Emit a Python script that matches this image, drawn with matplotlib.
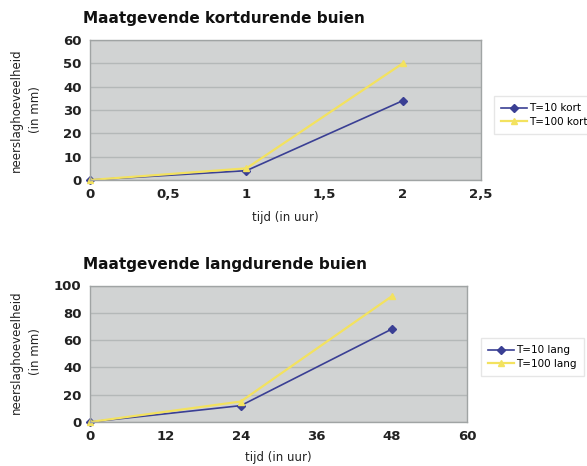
import matplotlib
matplotlib.use("Agg")
import matplotlib.pyplot as plt

# neerslag kortdurende buien (uur -> mm)
tijd_kort = [0, 1, 2]
t10_kort = [0, 4, 34]
t100_kort = [0, 5, 50]

# neerslag langdurende buien (uur -> mm)
tijd_lang = [0, 24, 48]
t10_lang = [0, 12, 68]
t100_lang = [0, 15, 92]

W, H = 587, 466
blauw = "#3a3f94"
geel = "#f3e25f"
achtergrond = "#d1d3d3"
raster = "#b4b8b8"

fig = plt.figure(figsize=(W / 100, H / 100), dpi=100)
fig.patch.set_facecolor("white")


def px(x, y):
    return x / W, 1 - y / H


def opmaak(ax, xticks, xlabels, ymax, ystep):
    ax.set_facecolor(achtergrond)
    ax.set_xlim(xticks[0], xticks[-1])
    ax.set_ylim(0, ymax)
    ax.set_xticks(xticks)
    ax.set_xticklabels(xlabels)
    ax.set_yticks(range(0, ymax + 1, ystep))
    ax.yaxis.grid(True, color=raster, linewidth=1)
    ax.set_axisbelow(True)
    for s in ax.spines.values():
        s.set_color("#a0a4a4")
        s.set_linewidth(1)
    ax.tick_params(length=0, labelsize=9.5, pad=6, labelcolor="#222222")
    for lbl in ax.get_xticklabels() + ax.get_yticklabels():
        lbl.set_fontweight("bold")


# bovenste grafiek
ax1 = fig.add_axes([90 / W, 1 - 180 / H, (481 - 90) / W, 140 / H])
ax1.plot(tijd_kort, t10_kort, color=blauw, marker="D", markersize=4, lw=1.2,
         label="T=10 kort", clip_on=False)
ax1.plot(tijd_kort, t100_kort, color=geel, marker="^", markersize=5, lw=1.6,
         label="T=100 kort", clip_on=False)
opmaak(ax1, [0, 0.5, 1, 1.5, 2, 2.5], ["0", "0,5", "1", "1,5", "2", "2,5"], 60, 10)
leg1 = fig.legend(handles=ax1.get_lines(), loc="center left", bbox_to_anchor=px(497, 115),
                  fontsize=7.5, frameon=True, handlelength=2.5, borderpad=0.4,
                  labelspacing=0.3, handletextpad=0.2, borderaxespad=0)
leg1.get_frame().set_edgecolor("#e0e0e0")
leg1.get_frame().set_boxstyle("square")

# onderste grafiek
ax2 = fig.add_axes([90 / W, 1 - 422 / H, (467 - 90) / W, 136.5 / H])
ax2.plot(tijd_lang, t10_lang, color=blauw, marker="D", markersize=4, lw=1.2,
         label="T=10 lang", clip_on=False)
ax2.plot(tijd_lang, t100_lang, color=geel, marker="^", markersize=5, lw=1.6,
         label="T=100 lang", clip_on=False)
opmaak(ax2, [0, 12, 24, 36, 48, 60], ["0", "12", "24", "36", "48", "60"], 100, 20)
leg2 = fig.legend(handles=ax2.get_lines(), loc="center left", bbox_to_anchor=px(484, 357),
                  fontsize=7.5, frameon=True, handlelength=2.5, borderpad=0.4,
                  labelspacing=0.3, handletextpad=0.2, borderaxespad=0)
leg2.get_frame().set_edgecolor("#e0e0e0")
leg2.get_frame().set_boxstyle("square")

# titels en aslabels
fig.text(*px(83, 18), "Maatgevende kortdurende buien", fontsize=11, fontweight="heavy",
         ha="left", va="center", color="#111111")
fig.text(*px(83, 265), "Maatgevende langdurende buien", fontsize=11, fontweight="heavy",
         ha="left", va="center", color="#111111")
for yc in (110, 352):
    fig.text(*px(26, yc), "neerslaghoeveelheid\n(in mm)", rotation=90, fontsize=8.5,
             ha="center", va="center", linespacing=1.6, color="#222222")
fig.text(*px(285, 218), "tijd (in uur)", fontsize=8.5, ha="center", va="center", color="#222222")
fig.text(*px(278, 458), "tijd (in uur)", fontsize=8.5, ha="center", va="center", color="#222222")

fig.savefig("out.png", dpi=100)
